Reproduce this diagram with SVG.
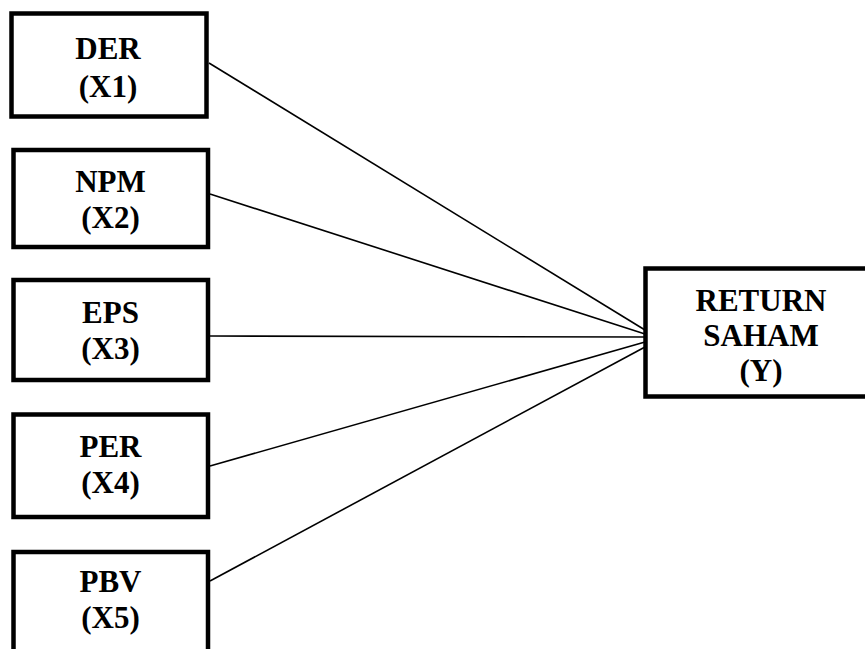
<svg xmlns="http://www.w3.org/2000/svg" width="865" height="649" viewBox="0 0 865 649">
<style>
.box{fill:#fff;stroke:#000;stroke-width:4.5}
.lbl{font-family:"Liberation Serif","Times New Roman",serif;font-weight:bold;font-size:31px;fill:#000;text-anchor:middle}
.conn{stroke:#000;stroke-width:1.6;fill:none}
</style>
<rect width="865" height="649" fill="#fff"/>
<g id="connectors">
<line class="conn" x1="209" y1="63" x2="645" y2="330"/>
<line class="conn" x1="210" y1="194" x2="645" y2="334"/>
<line class="conn" x1="210" y1="336" x2="645" y2="337"/>
<line class="conn" x1="210" y1="466" x2="645" y2="342"/>
<line class="conn" x1="210" y1="581" x2="645" y2="347"/>
</g>
<g id="der">
<rect class="box" x="11.5" y="13.5" width="195" height="103"/>
<text class="lbl" x="108" y="59">DER</text>
<text class="lbl" x="108" y="97">(X1)</text>
</g>
<g id="npm">
<rect class="box" x="13.5" y="150" width="194.5" height="97"/>
<text class="lbl" x="110.5" y="192">NPM</text>
<text class="lbl" x="110.5" y="228">(X2)</text>
</g>
<g id="eps">
<rect class="box" x="13.5" y="280" width="194.5" height="100"/>
<text class="lbl" x="110.5" y="323">EPS</text>
<text class="lbl" x="110.5" y="359">(X3)</text>
</g>
<g id="per">
<rect class="box" x="13.5" y="414.5" width="194.5" height="102.5"/>
<text class="lbl" x="110.5" y="457">PER</text>
<text class="lbl" x="110.5" y="493">(X4)</text>
</g>
<g id="pbv">
<rect class="box" x="13.5" y="552" width="194.5" height="120"/>
<text class="lbl" x="110.5" y="592">PBV</text>
<text class="lbl" x="110.5" y="628">(X5)</text>
</g>
<g id="return">
<rect class="box" x="645.5" y="268.5" width="240" height="128"/>
<text class="lbl" x="761" y="311">RETURN</text>
<text class="lbl" x="761" y="346">SAHAM</text>
<text class="lbl" x="761" y="381">(Y)</text>
</g>
</svg>
